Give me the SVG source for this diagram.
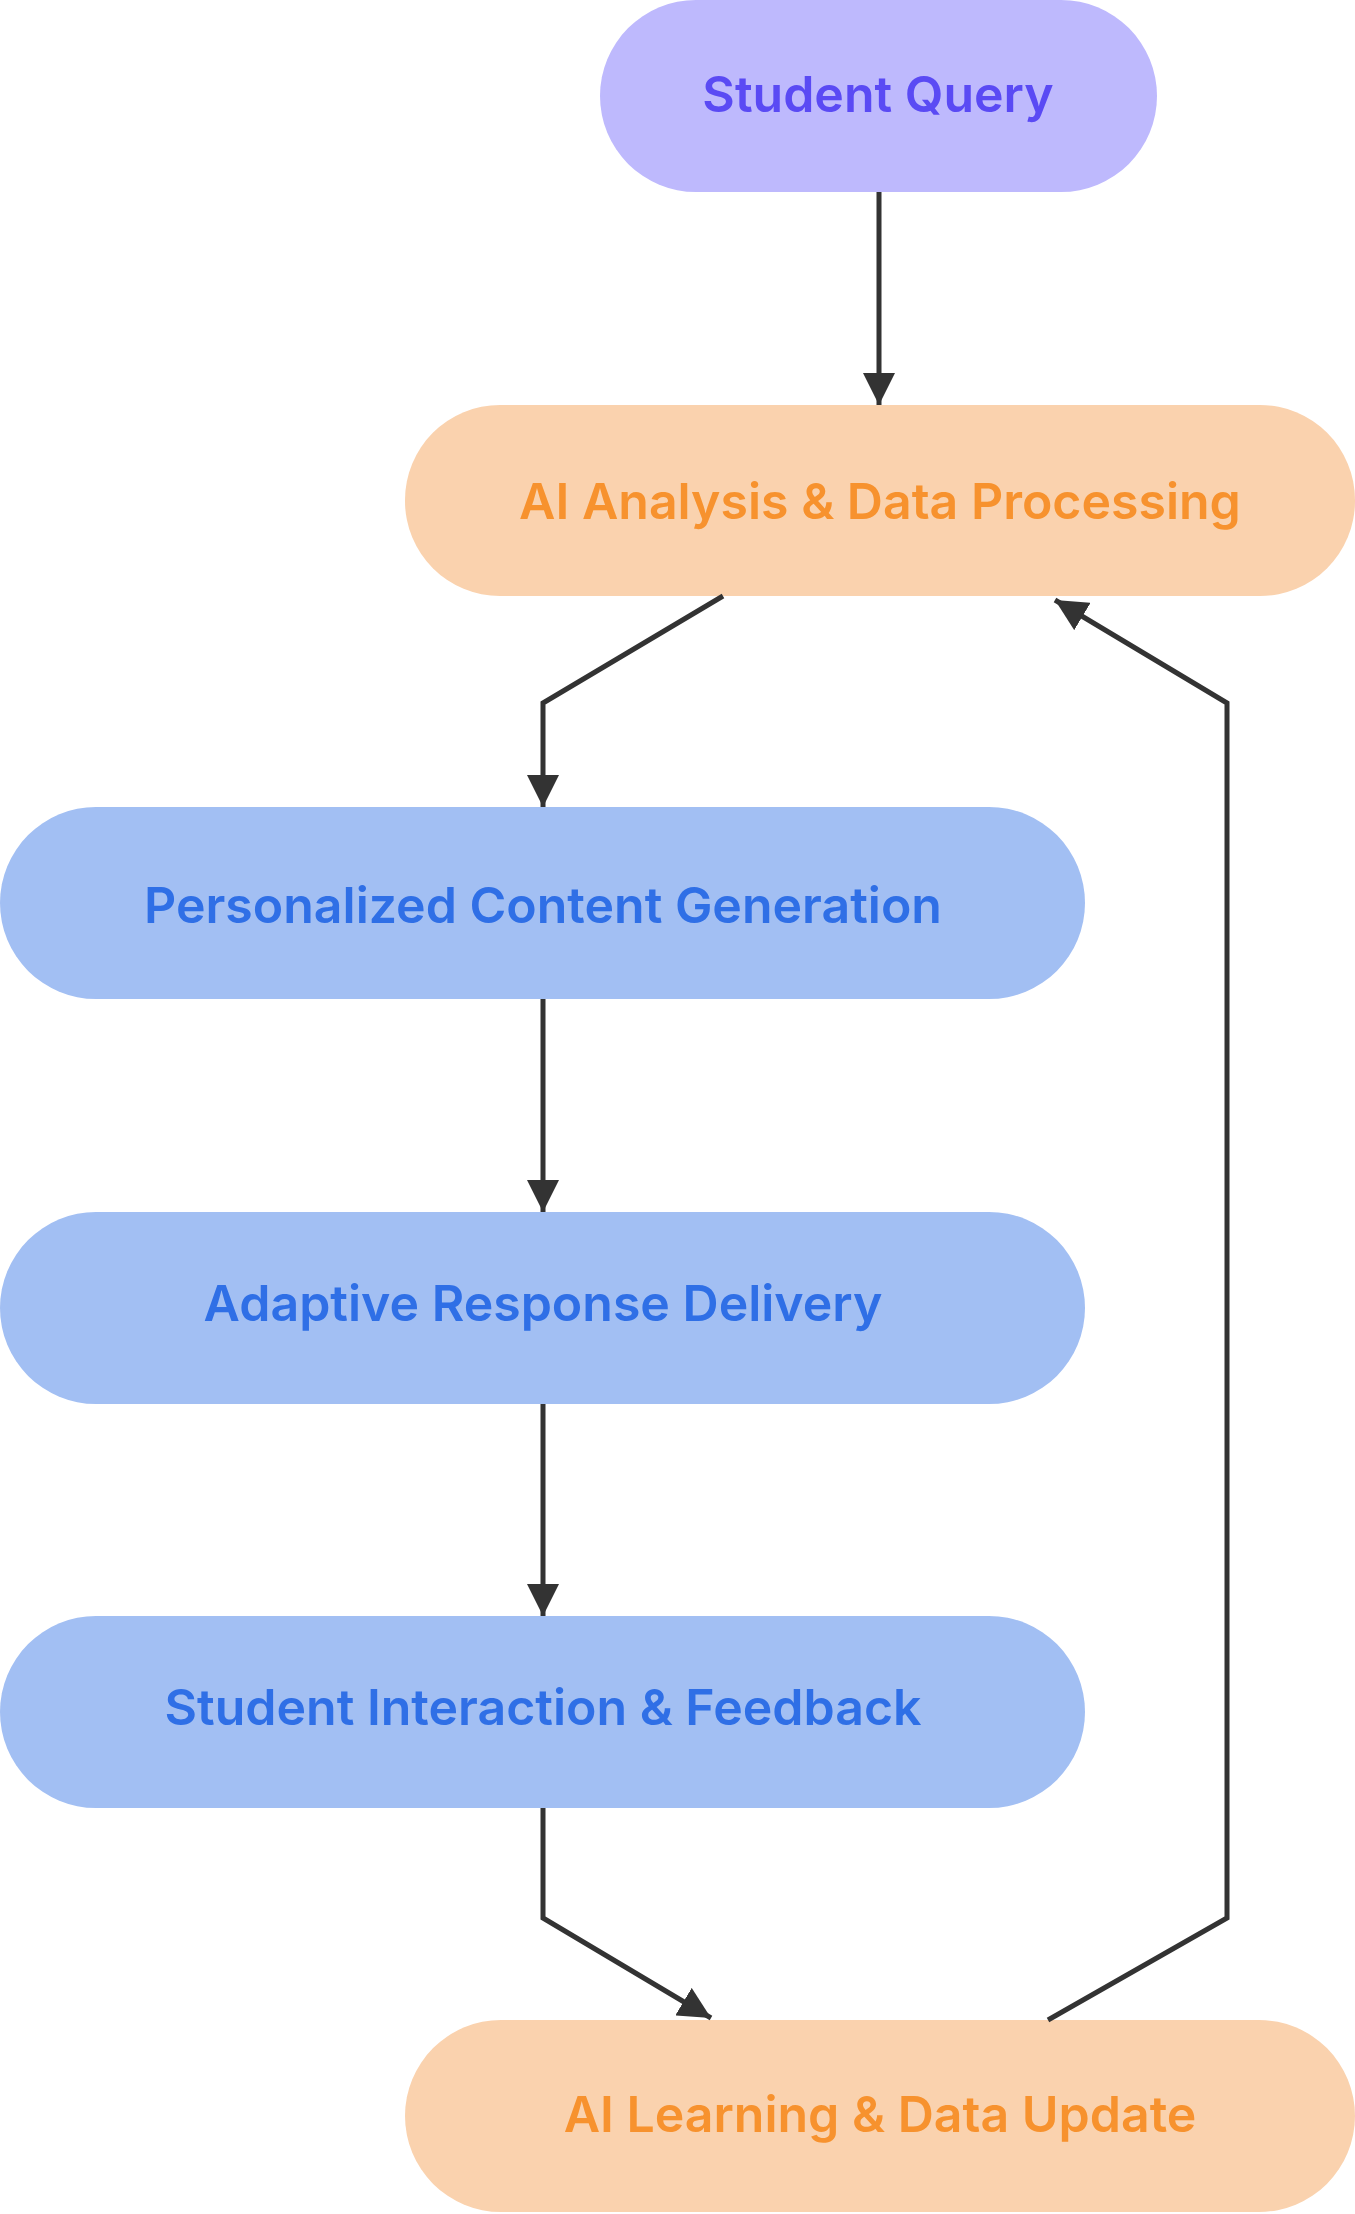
<svg xmlns="http://www.w3.org/2000/svg" width="1355" height="2214" viewBox="0 0 1355 2214">
<style>
text{font-family:Inter,"Noto Sans",sans-serif;font-weight:600;font-size:50px;text-anchor:middle;dominant-baseline:central}
.p{fill:#BEB9FD}.pt{fill:#5A4AF4}
.o{fill:#FAD2AE}.ot{fill:#F7922E}
.b{fill:#A2BFF3}.bt{fill:#2F6FE6}
.e{fill:none;stroke:#333;stroke-width:5;marker-end:url(#a)}
</style>
<defs><marker id="a" markerWidth="10" markerHeight="10" refX="9" refY="5" orient="auto" markerUnits="userSpaceOnUse" viewBox="0 0 10 10"><path d="M0,0L10,5L0,10z" fill="#333" transform="scale(1)"/></marker>
<marker id="m" viewBox="0 0 10 10" refX="10" refY="5" markerWidth="32" markerHeight="32" orient="auto" markerUnits="userSpaceOnUse"><path d="M0,0L10,5L0,10z" fill="#333"/></marker></defs>
<g id="n1"><rect class="p" x="600" y="0" width="557" height="192" rx="96"/><text class="pt" x="878" y="94">Student Query</text></g>
<g id="n2"><rect class="o" x="405" y="405" width="950" height="191" rx="95"/><text class="ot" x="880" y="501">AI Analysis &amp; Data Processing</text></g>
<g id="n3"><rect class="b" x="0" y="807" width="1085" height="192" rx="96"/><text class="bt" x="543" y="905">Personalized Content Generation</text></g>
<g id="n4"><rect class="b" x="0" y="1212" width="1085" height="192" rx="96"/><text class="bt" x="543" y="1303">Adaptive Response Delivery</text></g>
<g id="n5"><rect class="b" x="0" y="1616" width="1085" height="192" rx="96"/><text class="bt" x="543" y="1707">Student Interaction &amp; Feedback</text></g>
<g id="n6"><rect class="o" x="405" y="2020" width="950" height="192" rx="96"/><text class="ot" x="880" y="2114">AI Learning &amp; Data Update</text></g>
<g id="edges" fill="none" stroke="#333" stroke-width="5">
<path d="M879,192V405" marker-end="url(#m)"/>
<path d="M723,596L543,703V807" marker-end="url(#m)"/>
<path d="M543,999V1212" marker-end="url(#m)"/>
<path d="M543,1404V1616" marker-end="url(#m)"/>
<path d="M543,1808V1918L711,2018" marker-end="url(#m)"/>
<path d="M1048,2020L1227,1918V703L1055,600" marker-end="url(#m)"/>
</g>
</svg>
